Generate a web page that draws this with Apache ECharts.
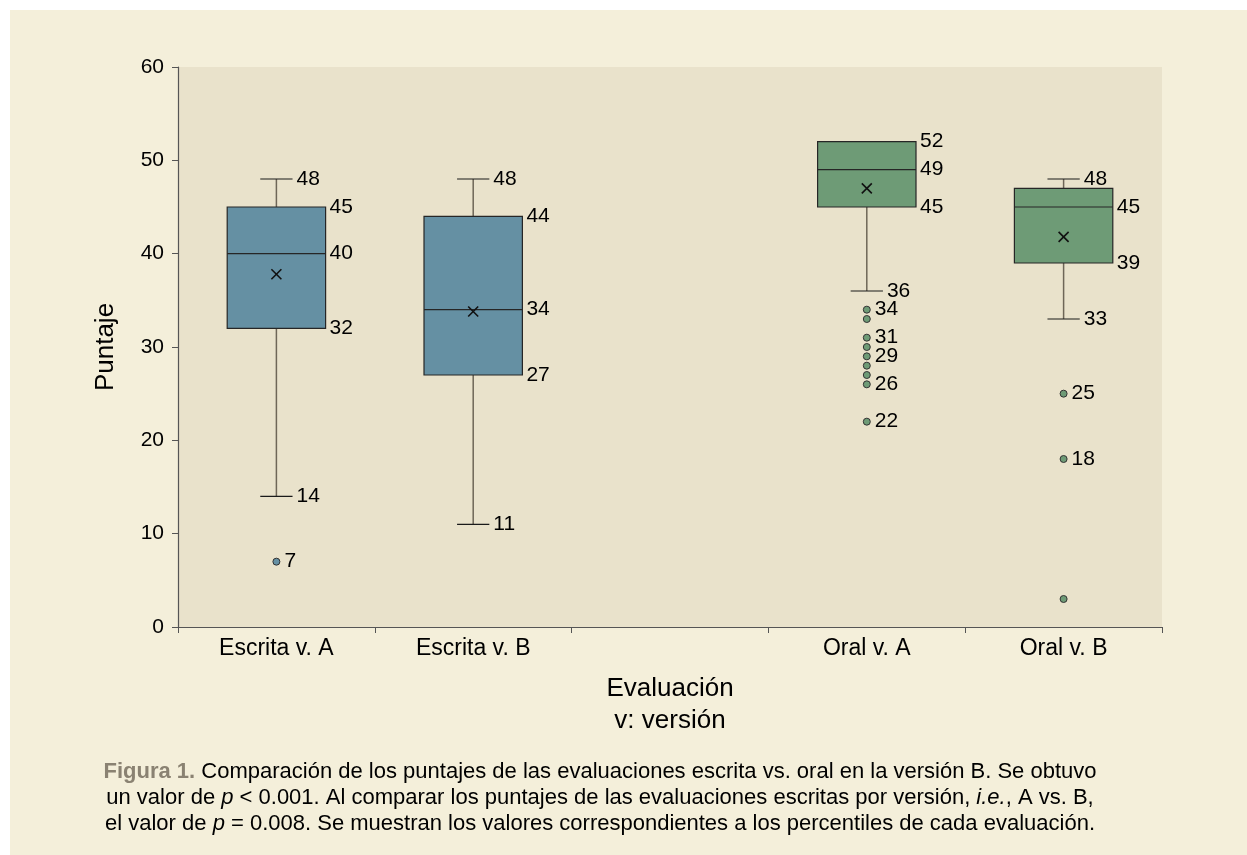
<!DOCTYPE html>
<html>
<head>
<meta charset="utf-8">
<script src="https://cdn.jsdelivr.net/npm/echarts@6/dist/echarts.min.js"></script>
<style>
  html, body { margin: 0; padding: 0; background: #ffffff; }
  #chart { position: absolute; left: 10px; top: 10px; width: 1237px; height: 845px; background: #F4EFDA; }
</style>
</head>
<body>
<div id="chart"></div>
<script>
// categorías (la tercera queda vacía como separador)
const categories = ['Escrita v. A', 'Escrita v. B', '', 'Oral v. A', 'Oral v. B']
const groups = ['escrita', 'escrita', null, 'oral', 'oral']

// percentiles de cada evaluación
const boxMin = [14, 11, null, 36, 33]
const boxQ1 = [32, 27, null, 45, 39]
const boxMedian = [40, 34, null, 49, 45]
const boxQ3 = [45, 44, null, 52, 47]
const boxMax = [48, 48, null, 52, 48]
const boxMean = [37.8, 33.8, null, 47.0, 41.8]
const q3Labelled = [true, true, false, true, false]

// valores atípicos: [categoría, puntaje, ¿etiqueta?]
const outlierCat = [0, 3, 3, 3, 3, 3, 3, 3, 3, 3, 4, 4, 4]
const outlierVal = [7, 34, 33, 31, 30, 29, 28, 27, 26, 22, 25, 18, 3]
const outlierLab = [true, true, false, true, false, true, false, false, true, true, true, true, false]

const yTicks = [0, 10, 20, 30, 40, 50, 60]

const colors = { escrita: '#6590A3', oral: '#6E9B76' }
const font = '"Liberation Sans", Arial, Helvetica, sans-serif'

const chart = echarts.init(document.getElementById('chart'))

const boxData = []
categories.forEach((c, i) => {
  if (boxMin[i] == null) return
  boxData.push([i, boxMin[i], boxQ1[i], boxMedian[i], boxQ3[i], boxMax[i], boxMean[i]])
})

const outlierData = outlierVal.map((v, i) => ({
  value: [outlierCat[i], v],
  itemStyle: { color: colors[groups[outlierCat[i]]] },
  label: { show: outlierLab[i] }
}))

const renderBox = (params, api) => {
  const idx = api.value(0)
  const cx = api.coord([idx, 0])[0]
  const band = api.size([1, 0])[0]
  const boxHalf = band * 0.25
  const capHalf = band * 0.082
  const yMin = api.coord([idx, api.value(1)])[1]
  const yQ1 = api.coord([idx, api.value(2)])[1]
  const yMed = api.coord([idx, api.value(3)])[1]
  const yQ3 = api.coord([idx, api.value(4)])[1]
  const yMax = api.coord([idx, api.value(5)])[1]
  const yMean = api.coord([idx, api.value(6)])[1]
  const fill = colors[groups[idx]]
  const whisker = { stroke: '#6e6657', lineWidth: 1.5 }
  const cap = { stroke: '#1a1a1a', lineWidth: 1.2 }
  const dark = { stroke: '#262626', lineWidth: 1.2 }
  const txt = (x, y, t) => ({
    type: 'text',
    style: { x: x, y: y, text: t, fill: '#000', font: '21px ' + font, align: 'left', verticalAlign: 'middle' }
  })
  const children = []
  if (api.value(5) > api.value(4)) {
    children.push({ type: 'line', shape: { x1: cx, y1: yMax, x2: cx, y2: yQ3 }, style: whisker })
    children.push({ type: 'line', shape: { x1: cx - capHalf, y1: yMax, x2: cx + capHalf, y2: yMax }, style: cap })
    children.push(txt(cx + capHalf + 4, yMax, String(api.value(5))))
  }
  children.push({ type: 'line', shape: { x1: cx, y1: yQ1, x2: cx, y2: yMin }, style: whisker })
  children.push({ type: 'line', shape: { x1: cx - capHalf, y1: yMin, x2: cx + capHalf, y2: yMin }, style: cap })
  children.push(txt(cx + capHalf + 4, yMin, String(api.value(1))))
  children.push({
    type: 'rect',
    shape: { x: cx - boxHalf, y: yQ3, width: boxHalf * 2, height: yQ1 - yQ3 },
    style: { fill: fill, stroke: '#262626', lineWidth: 1.2 }
  })
  children.push({ type: 'line', shape: { x1: cx - boxHalf, y1: yMed, x2: cx + boxHalf, y2: yMed }, style: dark })
  // media (x)
  const m = 5
  children.push({ type: 'line', shape: { x1: cx - m, y1: yMean - m, x2: cx + m, y2: yMean + m }, style: { stroke: '#111', lineWidth: 1.6 } })
  children.push({ type: 'line', shape: { x1: cx - m, y1: yMean + m, x2: cx + m, y2: yMean - m }, style: { stroke: '#111', lineWidth: 1.6 } })
  if (q3Labelled[idx]) children.push(txt(cx + boxHalf + 4, yQ3, String(api.value(4))))
  children.push(txt(cx + boxHalf + 4, yMed, String(api.value(3))))
  children.push(txt(cx + boxHalf + 4, yQ1, String(api.value(2))))
  return { type: 'group', children: children }
}

const option = {
  animation: false,
  textStyle: { fontFamily: font },
  grid: {
    left: 168, top: 57, right: 85, bottom: 228,
    show: true, backgroundColor: '#E9E2CB', borderWidth: 0
  },
  xAxis: {
    type: 'category',
    data: categories,
    boundaryGap: true,
    axisLine: { lineStyle: { color: '#555', width: 1.2 } },
    axisTick: { show: true, length: 6, alignWithLabel: false, interval: 0, lineStyle: { color: '#555' } },
    axisLabel: { fontSize: 23, color: '#000', margin: 10, interval: 0 },
    splitLine: { show: false },
    name: 'Evaluación\nv: versión',
    nameLocation: 'middle',
    nameGap: 46,
    nameTextStyle: { fontSize: 26, color: '#000', lineHeight: 32 }
  },
  yAxis: {
    type: 'value',
    min: yTicks[0],
    max: yTicks[yTicks.length - 1],
    interval: yTicks[1] - yTicks[0],
    axisLine: { show: true, lineStyle: { color: '#555', width: 1.2 } },
    axisTick: { show: true, length: 6, lineStyle: { color: '#555' } },
    axisLabel: { fontSize: 21, color: '#000', margin: 14 },
    splitLine: { show: false },
    name: 'Puntaje',
    nameLocation: 'middle',
    nameRotate: 90,
    nameGap: 59,
    nameTextStyle: { fontSize: 26, color: '#000' }
  },
  series: [
    {
      type: 'custom',
      renderItem: renderBox,
      encode: { x: 0, y: [1, 2, 3, 4, 5] },
      data: boxData,
      z: 2
    },
    {
      type: 'scatter',
      data: outlierData,
      symbol: 'circle',
      symbolSize: 7,
      itemStyle: { borderColor: '#333', borderWidth: 1, opacity: 1 },
      label: {
        position: 'right',
        distance: 4,
        fontSize: 21,
        color: '#000',
        formatter: p => p.value[1]
      },
      z: 3
    }
  ],
  graphic: [
    {
      type: 'text',
      x: 590,
      y: 749,
      style: {
        text: '{b|Figura 1.}{n| Comparación de los puntajes de las evaluaciones escrita vs. oral en la versión B. Se obtuvo}\n' +
          '{n|un valor de }{i|p}{n| < 0.001. Al comparar los puntajes de las evaluaciones escritas por versión, }{i|i.e.}{n|, A vs. B,}\n' +
          '{n|el valor de }{i|p}{n| = 0.008. Se muestran los valores correspondientes a los percentiles de cada evaluación.}',
        align: 'center',
        verticalAlign: 'top',
        font: '22px ' + font,
        lineHeight: 26,
        rich: {
          b: { fontSize: 22, fontWeight: 'bold', fill: '#8a8272', fontFamily: font, lineHeight: 26 },
          n: { fontSize: 22, fill: '#000', fontFamily: font, lineHeight: 26 },
          i: { fontSize: 22, fontStyle: 'italic', fill: '#000', fontFamily: font, lineHeight: 26 }
        }
      }
    }
  ]
}

chart.setOption(option)
</script>
</body>
</html>
